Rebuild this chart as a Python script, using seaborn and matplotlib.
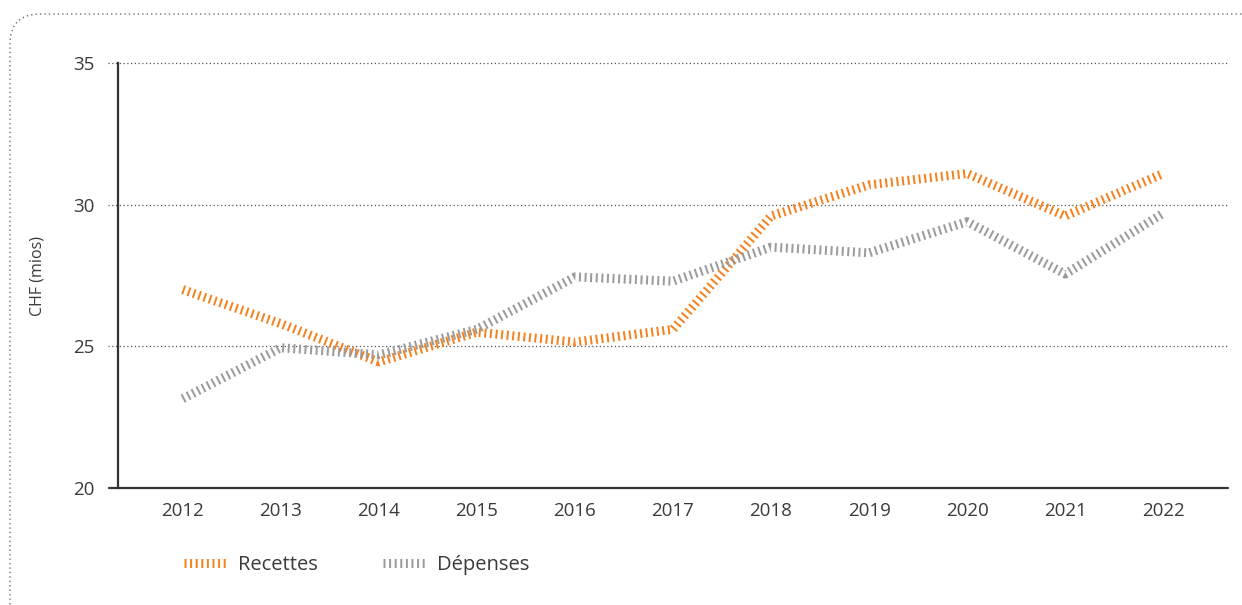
import matplotlib
import seaborn as sns
import pandas as pd

matplotlib.use("Agg")
import matplotlib.pyplot as plt
from matplotlib.patches import FancyBboxPatch

# Data
years = [2012, 2013, 2014, 2015, 2016, 2017, 2018, 2019, 2020, 2021, 2022]
recettes = [27.0, 25.8, 24.45, 25.5, 25.15, 25.6, 29.6, 30.7, 31.1, 29.6, 31.1]
depenses = [23.15, 24.95, 24.7, 25.6, 27.45, 27.3, 28.5, 28.3, 29.4, 27.55, 29.7]
series_names = ["Recettes", "Dépenses"]
y_ticks = [20, 25, 30, 35]

df = pd.DataFrame({"Année": years, series_names[0]: recettes, series_names[1]: depenses})
long_df = df.melt(id_vars="Année", var_name="Série", value_name="CHF")

sns.set_theme(style="white")
plt.rcParams["font.family"] = ["Open Sans", "DejaVu Sans"]

text_color = "#3a3a3a"
palette = {"Recettes": "#F5821F", "Dépenses": "#9B9B9D"}
LW = 6.5
DASH = [0.22, 0.4]

fig = plt.figure(figsize=(12.42, 6.05), dpi=100)
ax = fig.add_axes([118 / 1242, 1 - 488 / 605, (1228 - 118) / 1242, (488 - 63) / 605])

# Rounded dotted frame around the whole chart
frame = FancyBboxPatch(
    (10, -30), 1262, 621,
    boxstyle="round,pad=0,rounding_size=30",
    transform=None, fill=False, edgecolor="#707070",
    linestyle=(0, (1, 2.2)), linewidth=1.0,
)
fig.patches.append(frame)

# Position as index so the years sit evenly spaced
long_df["pos"] = long_df["Année"] - years[0]
sns.lineplot(
    data=long_df, x="pos", y="CHF", hue="Série", palette=palette,
    ax=ax, linewidth=LW, legend=False, sort=False,
)
for line in ax.get_lines():
    line.set_dashes(DASH)
    line.set_dash_capstyle("butt")

# Dotted gridlines extending slightly left of the spine
for yv in y_ticks[1:]:
    ax.axhline(yv, xmin=-0.009, xmax=1, color="#555555", linestyle=(0, (1, 2)),
               linewidth=0.9, clip_on=False, zorder=0)
ax.axhline(20, xmin=-0.008, xmax=1, color="#333333", linewidth=1.6, clip_on=False, zorder=3)

ax.set_xlim(-0.66, len(years) - 1 + 0.66)
ax.set_ylim(20, 35)
ax.set_yticks(y_ticks)
ax.set_xticks(range(len(years)))
ax.set_xticklabels([str(y) for y in years])
ax.tick_params(axis="both", length=0, labelsize=13.5, colors=text_color)
ax.tick_params(axis="y", pad=17)
ax.tick_params(axis="x", pad=10)

for side in ["top", "right", "bottom"]:
    ax.spines[side].set_visible(False)
ax.spines["left"].set_color("#333333")
ax.spines["left"].set_linewidth(1.6)

ax.set_xlabel("")
ax.set_ylabel("CHF (mios)", fontsize=11.5, color=text_color, labelpad=20)

# Legend below the axes
handles = [
    plt.Line2D([], [], color=palette[n], linewidth=LW, dashes=DASH, dash_capstyle="butt")
    for n in series_names
]
leg = fig.legend(
    handles, series_names, loc="center left", bbox_to_anchor=(166 / 1242, 1 - 565 / 605),
    ncol=2, frameon=False, fontsize=14.5, handlelength=2.1, handletextpad=0.6,
    columnspacing=3.2, labelcolor=text_color,
)

plt.savefig("out.png", dpi=100)
